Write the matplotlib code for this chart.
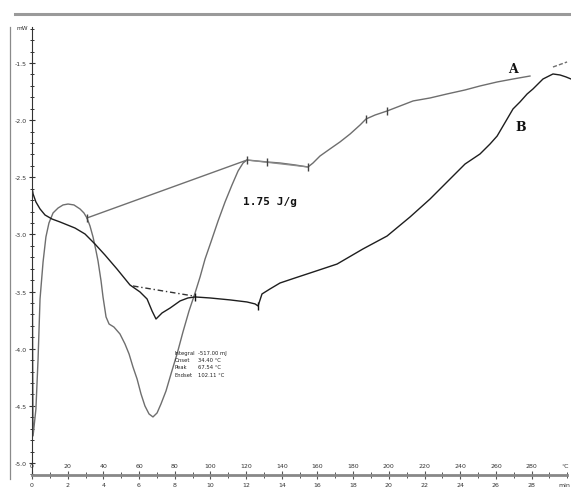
import numpy as np
import matplotlib
matplotlib.use("Agg")
import matplotlib.pyplot as plt
from matplotlib.ticker import MultipleLocator, FixedLocator
from matplotlib.transforms import blended_transform_factory

# ---- DSC data: temperature (°C) vs heat flow (mW) ----
temp_b = [0.0, 0.6, 2.2, 4.5, 7.3, 11.2, 15.7, 24.1, 29.7, 35.3, 40.9, 47.6, 54.9,
          60.5, 64.5, 67.3, 69.5, 72.9, 77.4, 83.0, 87.4, 91.4, 99.8, 111.0, 120.5,
          125.0, 126.7, 128.9, 133.4, 139.0, 147.4, 157.5, 171.0, 185.5, 199.0,
          211.9, 223.1, 234.3, 242.7, 251.1, 256.7, 260.7, 266.3, 269.6, 273.5,
          277.5, 280.8, 286.4, 292.0, 296.0, 299.3, 302.1]
flow_b = [-2.585, -2.646, -2.716, -2.777, -2.830, -2.865, -2.891, -2.944, -2.996,
          -3.084, -3.180, -3.302, -3.442, -3.503, -3.565, -3.670, -3.740, -3.687,
          -3.644, -3.582, -3.556, -3.547, -3.556, -3.573, -3.591, -3.608, -3.626,
          -3.521, -3.477, -3.425, -3.381, -3.329, -3.259, -3.127, -3.014, -2.847,
          -2.690, -2.515, -2.384, -2.296, -2.209, -2.139, -1.990, -1.902, -1.841,
          -1.771, -1.727, -1.640, -1.596, -1.605, -1.622, -1.640]

temp_a = [0.0, 0.6, 2.2, 3.4, 4.5, 6.2, 7.8, 9.5, 11.8, 14.6, 17.4, 20.2, 23.5,
          26.9, 29.1, 30.8, 32.5, 34.2, 35.9, 37.0, 38.7, 39.8, 41.5, 43.2, 45.9,
          49.3, 52.1, 54.4, 56.6, 58.9, 61.1, 63.3, 65.6, 67.8, 70.1, 72.3, 75.1,
          77.9, 81.3, 84.6, 88.0, 91.4, 94.2, 97.0, 100.3, 104.3, 108.2, 112.1,
          115.5, 118.3, 120.5, 126.1, 131.7, 139.0, 147.4, 154.7, 157.5, 161.4,
          167.0, 172.6, 178.3, 183.9, 187.2, 192.3, 199.0, 206.3, 213.6, 223.1,
          232.6, 242.7, 251.1, 260.7, 269.6, 279.1]
flow_a = [-2.585, -4.763, -4.527, -4.090, -3.565, -3.241, -3.022, -2.900, -2.812,
          -2.769, -2.742, -2.734, -2.742, -2.777, -2.812, -2.856, -2.926, -3.022,
          -3.145, -3.232, -3.407, -3.547, -3.722, -3.784, -3.810, -3.871, -3.958,
          -4.046, -4.160, -4.265, -4.396, -4.501, -4.571, -4.597, -4.562, -4.483,
          -4.370, -4.221, -4.046, -3.854, -3.670, -3.512, -3.372, -3.215, -3.066,
          -2.882, -2.716, -2.567, -2.445, -2.375, -2.349, -2.357, -2.366, -2.375,
          -2.392, -2.410, -2.375, -2.314, -2.252, -2.191, -2.121, -2.042, -1.990,
          -1.955, -1.920, -1.876, -1.832, -1.806, -1.771, -1.736, -1.701, -1.666,
          -1.640, -1.614]
temp_a_end = [292.0, 299.9]
flow_a_end = [-1.535, -1.491]

# integration baselines
base_a_t = [30.8, 120.5]
base_a_f = [-2.856, -2.349]
base_a2_t = [120.5, 154.7]
base_a2_f = [-2.349, -2.410]
base_b_t = [56.6, 90.2]
base_b_f = [-3.451, -3.538]

# event markers on the curves
marks_a = [30.8, 120.5, 131.7, 154.7, 187.2, 199.0]
marks_b = [91.4, 126.7]

y_major = [-1.5, -2.0, -2.5, -3.0, -3.5, -4.0, -4.5, -5.0]
y_labels = ["-1.5", "-2.0", "-2.5", "-3.0", "-3.5", "-4.0", "-4.5", "-5.0"]
x_temp = list(range(0, 300, 20))
x_min_labels = [str(t // 10) for t in x_temp]

W, H = 571, 489
fig = plt.figure(figsize=(W / 100, H / 100), dpi=100)
fig.patch.set_facecolor("white")

# frame decorations of the instrument printout
fig.add_artist(plt.Line2D([15 / W, 1.0], [1 - 15 / H, 1 - 15 / H],
                          color="#9a9a9a", lw=2.2, transform=fig.transFigure))
fig.add_artist(plt.Line2D([10 / W, 10 / W], [1 - 28 / H, 1 - 480 / H],
                          color="#8a8a8a", lw=0.9, transform=fig.transFigure))

ax = fig.add_axes([32 / W, 13 / H, (571 - 32) / W, (476 - 28) / H])
ax.set_xlim(0, 302.1)
ax.set_ylim(-5.105, -1.185)
ax.set_facecolor("none")

for s in ("top", "right"):
    ax.spines[s].set_visible(False)
ax.spines["left"].set_color("#333333")
ax.spines["left"].set_linewidth(0.8)
ax.spines["bottom"].set_color("#888888")
ax.spines["bottom"].set_linewidth(2.0)
ax.spines["bottom"].set_bounds(0, 300)

ax.yaxis.set_major_locator(FixedLocator(y_major))
ax.set_yticklabels(y_labels)
ax.yaxis.set_minor_locator(MultipleLocator(0.1))
ax.tick_params(axis="y", which="major", direction="inout", length=5, width=0.8,
               color="#333333", labelsize=4.5, pad=1.5, labelcolor="#333333")
ax.tick_params(axis="y", which="minor", direction="inout", length=3, width=0.7,
               color="#333333")

ax.xaxis.set_major_locator(FixedLocator(x_temp))
ax.set_xticklabels(x_min_labels)
ax.xaxis.set_minor_locator(MultipleLocator(10))
ax.tick_params(axis="x", which="major", direction="inout", length=6, width=0.8,
               color="#555555", labelsize=4.5, pad=2, labelcolor="#333333")
ax.tick_params(axis="x", which="minor", direction="inout", length=4, width=0.7,
               color="#555555")

tr = blended_transform_factory(ax.transData, ax.transAxes)
for t in x_temp:
    ax.text(t, 0.022, str(t), transform=tr, ha="center", va="center",
            fontsize=4.5, color="#333333")
ax.text(299, 0.022, "°C", transform=tr, ha="center", va="center",
        fontsize=4.5, color="#333333")
ax.text(298.5, -0.022, "min", transform=tr, ha="center", va="center",
        fontsize=4.5, color="#333333")
ax.text(-2.0, -1.19, "mW", ha="right", va="center", fontsize=4.2,
        color="#333333", clip_on=False)

# curves
ax.plot(temp_a, flow_a, color="#6e6e6e", lw=1.0, solid_joinstyle="round")
ax.plot(temp_a_end, flow_a_end, color="#6e6e6e", lw=1.0, ls=(0, (3, 1.5)))
ax.plot(base_a_t, base_a_f, color="#707070", lw=1.0)
ax.plot(base_a2_t, base_a2_f, color="#8a8a8a", lw=0.9)
ax.plot(temp_b, flow_b, color="#1e1e1e", lw=1.0, solid_joinstyle="round")
ax.plot(base_b_t, base_b_f, color="#333333", lw=1.0, ls=(0, (4, 2, 1, 2)))

ax.plot(marks_a, np.interp(marks_a, temp_a, flow_a), ls="none", marker="|",
        ms=6, mew=1.0, color="#444444")
ax.plot(marks_b, np.interp(marks_b, temp_b, flow_b), ls="none", marker="|",
        ms=6, mew=1.0, color="#111111")

# labels
ax.text(269.7, -1.55, "A", fontsize=9, fontweight="bold", family="DejaVu Serif",
        ha="center", va="center", color="#111111")
ax.text(273.7, -2.06, "B", fontsize=9, fontweight="bold", family="DejaVu Serif",
        ha="center", va="center", color="#111111")
ax.text(118, -2.71, "1.75 J/g", fontsize=8, fontweight="bold",
        family="DejaVu Sans Mono", ha="left", va="center", color="#111111")

info_keys = ["Integral", "Onset", "Peak", "Endset"]
info_vals = ["-517.00 mJ", "34.40 °C", "67.54 °C", "102.11 °C"]
for i, (k, v) in enumerate(zip(info_keys, info_vals)):
    yy = -4.033 - i * 0.063
    ax.text(80, yy, k, fontsize=3.8, ha="left", va="center", color="#222222")
    ax.text(93, yy, v, fontsize=3.8, ha="left", va="center", color="#222222")

fig.savefig("out.png", dpi=100, facecolor="white")
